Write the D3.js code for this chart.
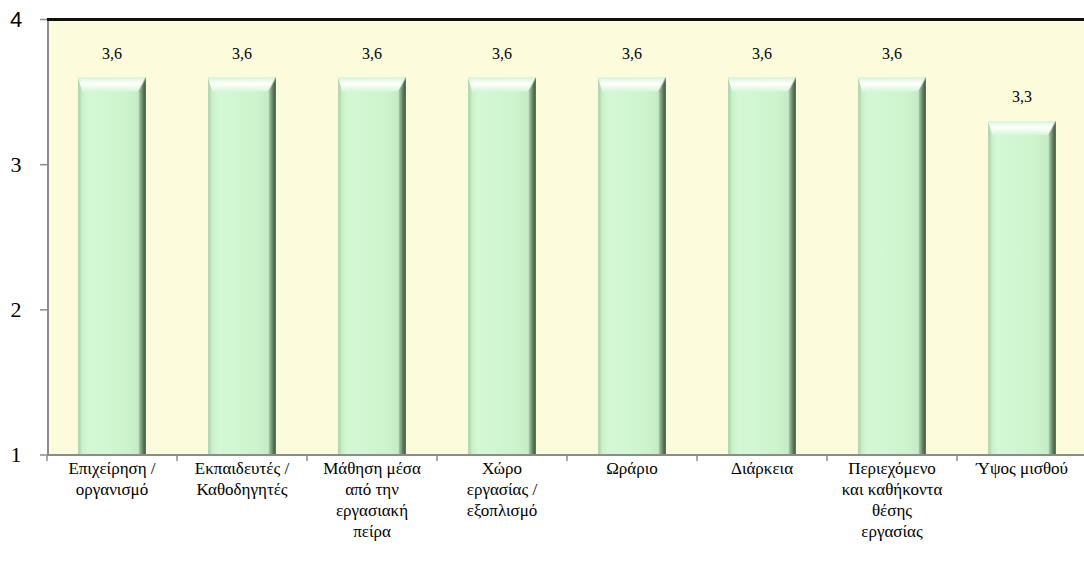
<!DOCTYPE html>
<html><head><meta charset="utf-8">
<script src="https://d3js.org/d3.v7.min.js"></script>
<style>html,body{margin:0;padding:0;background:#fff}svg{display:block}</style>
</head><body>
<svg id="c" width="1084" height="566"></svg>
<script>
const categories = ["Επιχείρηση / οργανισμό","Εκπαιδευτές / Καθοδηγητές","Μάθηση μέσα από την εργασιακή πείρα","Χώρο εργασίας / εξοπλισμό","Ωράριο","Διάρκεια","Περιεχόμενο και καθήκοντα θέσης εργασίας","Ύψος μισθού"];
const labelLines = [["Επιχείρηση /","οργανισμό"],["Εκπαιδευτές /","Καθοδηγητές"],["Μάθηση μέσα","από την","εργασιακή","πείρα"],["Χώρο","εργασίας /","εξοπλισμό"],["Ωράριο"],["Διάρκεια"],["Περιεχόμενο","και καθήκοντα","θέσης","εργασίας"],["Ύψος μισθού"]];
const values = [3.6,3.6,3.6,3.6,3.6,3.6,3.6,3.3];
const yTicks = [1,2,3,4];

const SERIF = "'Liberation Serif'";
const SANS = "'Liberation Sans'";

const svg = d3.select("#c");
const L = 47, R = 1087, T = 19.5, B = 455;
const x = d3.scaleBand().domain(categories).range([L, R]).paddingInner(0.48).paddingOuter(0.24);
const xb = d3.scaleBand().domain(categories).range([L, R]);
const y = d3.scaleLinear().domain([1,4]).range([B, T]);

const defs = svg.append("defs");
const g1 = defs.append("linearGradient").attr("id","body").attr("x1",0).attr("x2",1).attr("y1",0).attr("y2",0);
g1.append("stop").attr("offset","0").attr("stop-color","#c3ecc3");
g1.append("stop").attr("offset","0.15").attr("stop-color","#d4f8d4");
g1.append("stop").attr("offset","0.7").attr("stop-color","#cdf4cd");
g1.append("stop").attr("offset","1").attr("stop-color","#bfe6bf");
const g2 = defs.append("linearGradient").attr("id","right").attr("x1",0).attr("x2",1).attr("y1",0).attr("y2",0);
g2.append("stop").attr("offset","0").attr("stop-color","#a9cca9");
g2.append("stop").attr("offset","0.6").attr("stop-color","#5d7d5d");
g2.append("stop").attr("offset","1").attr("stop-color","#3d553d");
const g3 = defs.append("linearGradient").attr("id","top").attr("x1",0).attr("x2",0).attr("y1",0).attr("y2",1);
g3.append("stop").attr("offset","0").attr("stop-color","#d8f5d8");
g3.append("stop").attr("offset","0.45").attr("stop-color","#ffffff");
g3.append("stop").attr("offset","1").attr("stop-color","#d6f6d6");
const g4 = defs.append("linearGradient").attr("id","left").attr("x1",0).attr("x2",1).attr("y1",0).attr("y2",0);
g4.append("stop").attr("offset","0").attr("stop-color","#9ec29e");
g4.append("stop").attr("offset","1").attr("stop-color","#c8efc8");

svg.append("rect").attr("x", L).attr("y", T).attr("width", 1084 - L).attr("height", B - T).attr("fill", "#fcfcdc");

const bw = x.bandwidth(), bv = 7, tb = 14;
const bars = svg.append("g").selectAll("g").data(categories).join("g");
bars.each(function(c, i) {
  const g = d3.select(this);
  const x0 = x(c), x1 = x0 + bw, y0 = y(values[i]), y1 = y(1);
  g.append("rect").attr("x", x0).attr("y", y0).attr("width", bw).attr("height", y1 - y0).attr("fill", "url(#body)");
  g.append("path").attr("d", `M${x0},${y0}L${x0+4},${y0+tb}L${x0+4},${y1}L${x0},${y1}Z`).attr("fill","url(#left)").attr("opacity",0.7);
  g.append("path").attr("d", `M${x1},${y0}L${x1-bv},${y0+tb}L${x1-bv},${y1}L${x1},${y1}Z`).attr("fill","url(#right)");
  g.append("path").attr("d", `M${x0},${y0}L${x1},${y0}L${x1-bv},${y0+tb}L${x0+4},${y0+tb}Z`).attr("fill","url(#top)");
  g.append("path").attr("d", `M${x1},${y0}L${x1-bv},${y0+tb}`).attr("stroke","#8faf8f").attr("stroke-width",1);
});

svg.append("g").selectAll("text").data(categories).join("text")
  .attr("font-family", SERIF).style("font-family", SERIF)
  .attr("x", c => x(c) + bw/2).attr("y", (c,i) => y(values[i]) - 19)
  .attr("text-anchor","middle").attr("font-size",16).attr("fill","#000")
  .text((c,i) => values[i].toFixed(1).replace(".", ","));

svg.append("line").attr("x1", L+1).attr("x2", L+1).attr("y1", T).attr("y2", B).attr("stroke","#8c8c8c").attr("stroke-width",2);
svg.append("line").attr("x1", L).attr("x2", 1084).attr("y1", B).attr("y2", B).attr("stroke","#8c8c8c").attr("stroke-width",2);
svg.append("line").attr("x1", L).attr("x2", 1084).attr("y1", T).attr("y2", T).attr("stroke","#111").attr("stroke-width",3);

svg.append("g").selectAll("line").data(yTicks).join("line")
  .attr("x1", 40).attr("x2", L).attr("y1", d => y(d)).attr("y2", d => y(d)).attr("stroke","#8c8c8c").attr("stroke-width",1.5);
svg.append("g").selectAll("text").data(yTicks).join("text")
  .attr("font-family", d => d === 4 ? SANS : SERIF).style("font-family", d => d === 4 ? SANS : SERIF)
  .attr("x", 16).attr("y", d => y(d) + 7).attr("text-anchor","middle")
  .attr("font-size", 22).attr("fill","#000").text(d => d);

svg.append("g").selectAll("line").data(categories).join("line")
  .attr("x1", c => xb(c)).attr("x2", c => xb(c)).attr("y1", B).attr("y2", B + 6).attr("stroke","#8c8c8c").attr("stroke-width",1.5);

const xl = svg.append("g").selectAll("text").data(categories).join("text")
  .attr("font-family", SERIF).style("font-family", SERIF)
  .attr("text-anchor","middle").attr("font-size",17).attr("fill","#000");
xl.each(function(c, i) {
  const t = d3.select(this);
  labelLines[i].forEach((ln, k) => {
    t.append("tspan").attr("x", xb(c) + xb.bandwidth()/2).attr("y", 474 + k * 21).text(ln);
  });
});
</script>
</body></html>
